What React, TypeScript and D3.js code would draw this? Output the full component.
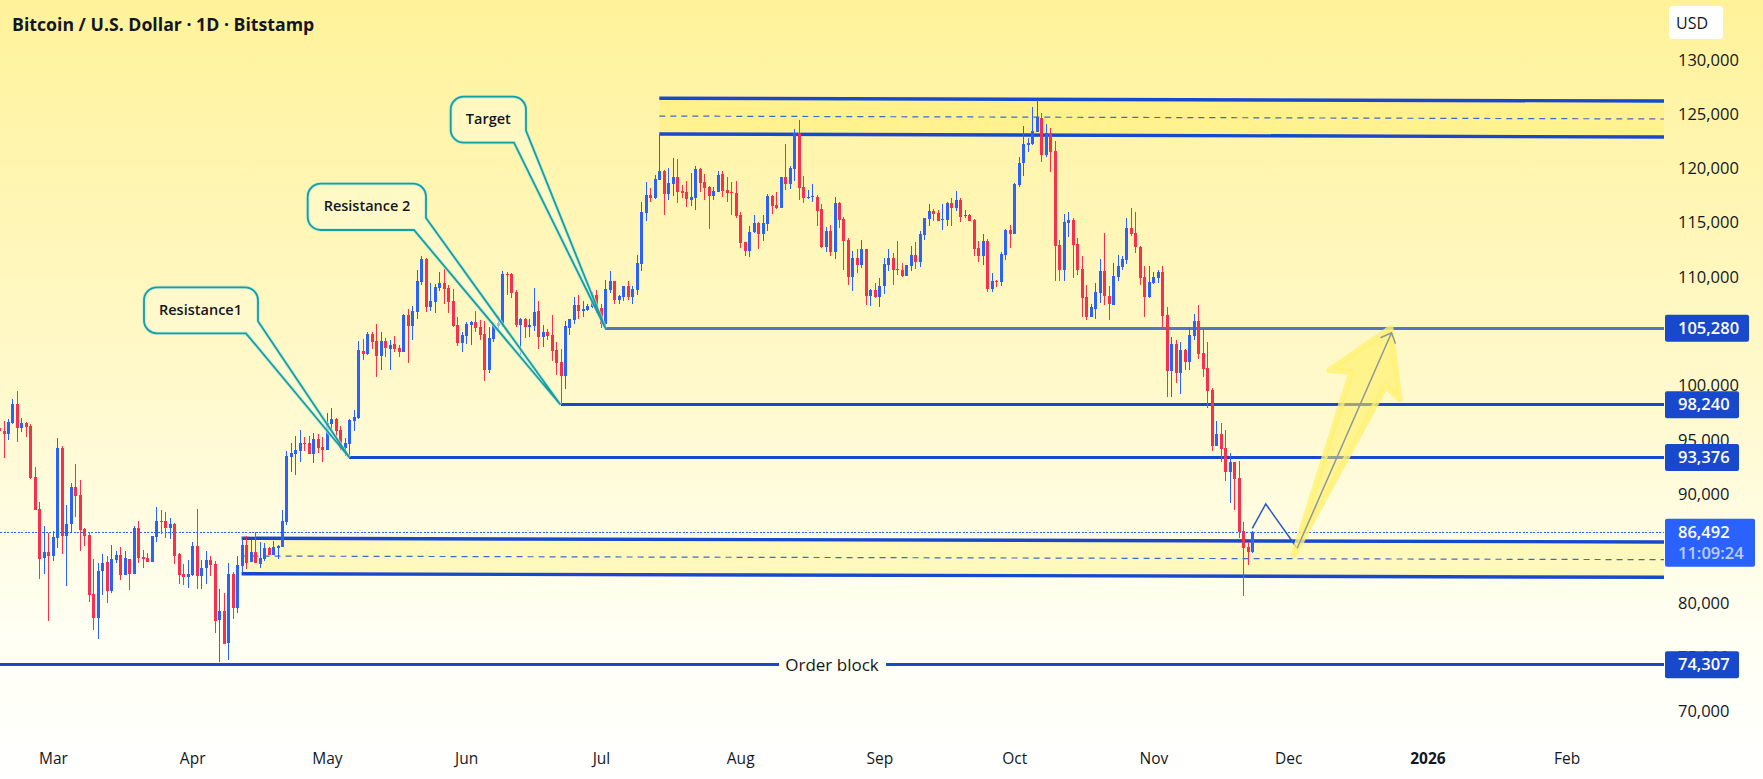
import { useEffect, useRef } from 'react';
import * as d3 from 'd3';

// daily candles, USD thousands, first bar is 17 Feb 2025
const opens = [
  96.06,95.82,95.54,96.52,98.3,96.09,96.55,96.25,91.58,88.63,
  84.12,84.67,84.31,85.96,94.25,86.18,87.25,90.66,89.92,86.79,
  86.24,80.81,78.6,82.92,83.75,81.08,83.94,84.4,82.56,84.03,
  82.65,86.88,84.21,84.12,83.75,86.06,87.53,87.53,86.88,87.25,
  84.49,82.65,82.37,82.56,85.23,82.46,83.2,83.94,83.57,78.41,
  79.24,76.29,82.65,79.52,83.38,85.32,83.75,84.67,83.57,84.03,
  85.04,84.4,85.04,85.13,87.44,93.42,93.7,93.98,94.71,94.71,
  93.7,95.08,94.34,94.07,96.46,96.92,95.91,94.26,94.62,96.74,
  97.02,103.18,102.9,104.75,104.11,102.72,104.11,103.37,103.83,103.46,
  103.09,106.5,105.49,106.78,109.54,111.66,107.24,107.7,108.99,109.45,
  108.99,107.79,105.58,103.92,104.57,105.58,105.85,105.39,104.75,101.43,
  104.29,105.49,105.58,110.28,110.28,108.62,105.58,106.13,105.39,105.49,
  106.87,104.47,104.93,104.66,103.28,102.17,100.89,105.3,106.04,107.42,
  106.87,106.96,107.24,108.34,107.1,105.7,108.8,109.63,107.9,108.15,
  109.17,108.15,108.8,111.19,115.89,117.55,117.27,118.93,119.76,117.64,
  118.56,119.2,117.92,117.82,117.09,117.27,119.94,118.75,118.29,117.46,
  117.82,119.48,118.01,117.82,117.73,115.7,113.22,112.39,114.14,114.97,
  113.96,114.88,117.46,116.63,116.35,119.2,118.56,119.94,123.26,118.29,
  117.27,117.36,117.36,116.26,112.76,114.23,112.3,116.81,115.34,113.41,
  109.98,111.75,111.1,112.57,108.25,108.8,108.15,109.17,111.1,111.75,
  110.73,110.64,110.09,111.01,112.02,111.38,113.87,115.34,116.08,115.89,
  115.25,115.25,116.81,116.35,117.09,115.61,115.7,115.25,112.67,111.93,
  113.31,108.89,109.63,109.54,112.02,114.32,113.96,118.47,120.5,122.15,
  122.25,123.35,124.64,121.23,123.26,121.6,112.94,110.64,114.97,115.25,
  113.04,110.73,108.15,106.31,107.05,108.52,110.55,108.25,107.42,109.99,
  110.92,111.56,114.51,114.05,112.76,110.0,108.15,109.44,109.9,110.46,
  106.5,101.34,103.82,101.15,103.27,102.17,104.56,105.94,102.99,101.61,
  99.59,94.43,95.54,94.25,92.04,92.96,91.48,86.6,85.13,84.67,
];
const highs = [
  96.52,96.74,96.92,98.77,99.5,97.01,96.62,96.46,92.5,89.28,
  87.07,86.39,86.61,95.17,94.41,89.0,91.03,92.78,91.3,86.88,
  86.52,84.03,83.66,84.49,84.3,85.32,84.77,85.13,84.77,84.03,
  87.07,87.53,84.86,84.58,86.15,88.82,88.54,88.36,87.8,87.35,
  84.58,83.57,83.94,85.59,88.63,83.94,84.77,84.3,83.84,81.27,
  80.9,83.66,82.83,84.3,86.06,86.15,85.78,86.52,85.59,85.5,
  85.13,85.69,85.32,88.54,93.98,94.71,95.36,95.91,95.27,95.36,
  95.63,95.54,95.27,97.48,97.94,97.0,96.28,95.18,96.93,97.76,
  104.1,104.26,104.93,104.93,105.67,104.93,104.38,104.2,104.56,103.74,
  106.59,107.05,107.33,110.64,111.93,111.75,109.45,109.36,110.46,110.74,
  109.26,108.9,106.32,104.93,105.85,105.95,106.87,106.04,105.95,105.39,
  105.85,106.41,110.55,110.46,110.37,108.8,106.22,106.22,106.13,108.99,
  107.79,105.58,105.21,106.5,104.01,103.37,105.95,106.13,108.16,108.34,
  107.79,107.51,108.62,108.8,107.5,109.72,110.55,109.63,108.34,109.17,
  109.63,109.17,112.02,116.9,118.75,118.19,119.39,123.17,119.85,120.04,
  120.96,120.86,118.47,118.84,119.57,120.22,120.04,119.48,118.38,118.29,
  119.76,119.76,119.2,118.75,118.84,115.98,113.22,114.69,115.7,115.06,
  115.7,117.64,117.55,117.82,119.2,122.25,120.22,123.63,124.46,119.3,
  118.01,118.56,117.55,116.72,114.6,114.78,117.36,116.9,115.52,113.59,
  112.39,112.57,113.4,112.57,108.89,109.44,109.9,111.75,112.57,112.21,
  113.31,111.29,111.1,112.85,113.22,114.23,115.43,116.72,116.26,116.17,
  116.72,116.9,117.27,117.92,117.27,116.17,115.8,115.34,113.31,113.96,
  113.5,110.36,109.72,112.3,114.42,114.79,118.65,121.05,123.9,122.8,
  125.65,126.27,125.1,124.09,123.72,122.52,113.4,115.8,115.98,115.43,
  113.59,111.93,109.26,107.51,109.44,111.65,114.05,109.17,111.29,112.02,
  111.93,115.43,116.35,115.98,112.85,111.0,111.0,110.46,110.64,111.0,
  107.23,104.47,104.19,104.0,103.36,105.39,106.59,107.4,105.3,104.0,
  99.77,96.73,96.55,95.9,93.78,92.96,93.05,87.43,85.59,86.6,
];
const lows = [
  95.6,93.36,94.99,96.43,94.8,95.73,95.3,91.4,88.54,82.19,
  82.65,78.35,83.88,85.04,84.49,81.54,86.52,87.9,84.77,85.23,
  80.07,77.49,76.66,80.71,79.98,80.9,83.66,82.09,82.56,81.17,
  82.65,83.66,83.2,83.75,83.75,85.59,86.33,85.96,85.87,83.57,
  81.73,81.63,81.36,82.46,81.27,81.27,81.73,82.46,77.21,74.54,
  76.2,74.73,78.5,79.06,82.74,83.11,83.75,83.66,83.2,83.84,
  84.4,84.4,84.03,85.13,87.16,92.0,91.77,92.96,93.98,93.7,
  92.87,93.79,92.96,94.07,95.91,94.99,94.07,93.52,93.52,95.82,
  96.93,102.35,102.82,103.37,100.79,101.43,102.63,101.43,103.09,102.63,
  103.09,102.08,104.2,106.13,109.26,106.78,106.87,106.68,108.7,107.5,
  106.68,105.39,103.64,103.09,103.83,103.74,104.93,104.2,100.43,101.16,
  104.0,105.12,105.39,108.34,108.07,105.4,102.82,104.38,104.47,105.03,
  103.37,103.55,104.2,102.26,100.97,98.37,99.69,104.66,105.7,106.13,
  106.32,106.87,107.14,106.68,105.3,105.5,108.52,107.5,107.5,107.8,
  107.88,107.5,108.34,110.55,115.15,116.9,117.18,118.93,115.7,117.1,
  117.46,116.81,117.27,116.44,116.54,116.17,117.82,117.09,114.42,117.09,
  117.82,117.36,116.9,115.7,115.43,112.67,111.93,111.84,114.05,112.57,
  113.31,114.23,115.8,116.26,116.35,118.01,118.1,118.84,117.09,116.81,
  117.18,116.9,114.69,112.67,112.3,111.93,111.65,114.51,110.64,109.26,
  108.71,110.36,110.82,107.42,107.33,108.06,107.23,108.43,110.55,109.26,
  110.18,110.0,110.09,110.55,110.73,110.92,113.4,114.69,115.15,115.15,
  114.33,114.69,114.69,116.07,115.06,115.43,115.15,111.93,111.38,111.1,
  108.61,108.61,109.08,109.17,111.56,112.67,113.96,118.29,119.3,121.51,
  122.15,123.35,120.59,121.05,119.67,109.63,109.63,109.63,113.68,109.9,
  110.18,106.31,106.04,106.31,106.13,107.6,107.42,106.04,107.42,109.63,
  110.64,111.19,113.77,112.21,109.26,106.31,108.1,109.35,109.44,105.3,
  98.94,98.94,100.23,99.22,101.43,101.43,104.19,102.44,100.79,97.93,
  93.97,94.43,92.96,91.2,89.18,88.54,85.96,80.62,83.47,84.6,
];
const closes = [
  95.82,95.54,96.62,98.3,96.13,96.52,96.19,91.49,88.57,84.06,
  84.67,84.31,86.06,94.25,86.18,87.25,90.66,89.83,86.7,86.18,
  80.71,78.6,82.92,83.66,81.08,84.03,84.4,82.56,84.12,82.65,
  86.88,84.12,84.03,83.75,86.15,87.53,87.44,86.88,87.25,84.31,
  82.56,82.37,82.65,85.23,82.46,83.2,83.94,83.48,78.32,79.24,
  76.2,82.65,79.52,83.48,85.32,83.66,84.67,83.66,84.12,85.04,
  84.4,85.13,85.23,87.53,93.52,93.79,94.07,94.71,94.62,93.7,
  95.08,94.25,94.07,96.55,96.92,95.82,94.26,94.72,96.83,97.11,
  103.28,102.9,104.75,104.01,102.72,104.11,103.46,103.74,103.37,103.09,
  106.5,105.49,106.87,109.63,111.66,107.24,107.79,109.08,109.45,108.9,
  107.7,105.49,103.92,104.66,105.67,105.85,105.3,104.66,101.43,104.38,
  105.58,105.76,110.28,110.18,108.53,105.58,106.13,105.39,105.58,106.78,
  104.47,104.93,104.57,103.18,102.08,100.89,105.49,106.13,107.42,106.87,
  107.05,107.33,108.34,107.05,105.7,108.89,109.63,107.88,108.25,109.17,
  108.15,108.89,111.29,115.98,117.55,117.27,119.02,119.76,117.64,118.65,
  119.2,117.82,117.73,117.18,117.36,119.94,118.65,118.19,117.46,117.92,
  119.39,117.92,117.73,117.73,115.61,113.13,112.39,114.14,114.97,113.96,
  114.97,117.46,116.54,116.35,119.2,118.56,120.04,123.26,118.19,117.27,
  117.36,117.46,116.07,112.76,114.23,112.3,116.81,115.25,113.31,109.98,
  111.75,111.1,112.57,108.25,108.8,108.15,109.17,111.19,111.75,110.64,
  110.64,110.09,111.1,112.02,111.38,113.96,115.43,116.08,115.8,115.15,
  115.34,116.81,116.35,117.09,115.52,115.7,115.15,112.57,111.93,113.31,
  108.89,109.63,109.54,112.11,114.32,113.96,118.56,120.5,122.25,122.34,
  123.44,124.73,121.23,123.26,121.51,112.85,110.64,115.06,115.25,112.94,
  110.64,108.06,106.31,107.23,108.62,110.55,108.25,107.51,110.09,111.01,
  111.65,114.51,113.96,112.76,109.9,108.15,109.53,110.0,110.46,106.4,
  101.34,103.82,101.15,103.27,102.17,104.65,105.94,102.9,101.52,99.5,
  94.43,95.54,94.15,92.04,92.96,91.39,86.51,85.04,84.67,86.49,
];

const firstDay = new Date(Date.UTC(2025, 1, 17));
const priceTicks = [70, 75, 80, 85, 90, 95, 100, 105, 110, 115, 120, 125, 130];
const timeTicks = [
  [2025, 2], [2025, 3], [2025, 4], [2025, 5], [2025, 6], [2025, 7],
  [2025, 8], [2025, 9], [2025, 10], [2025, 11], [2026, 0], [2026, 1],
].map(([y, m]) => new Date(Date.UTC(y, m, 1)));

// horizontal levels: price, first day (null = from the left edge)
const levelPrices = [105.28, 98.24, 93.376, 74.307];
const levelStarts = [
  new Date(Date.UTC(2025, 6, 2)),
  new Date(Date.UTC(2025, 5, 22)),
  new Date(Date.UTC(2025, 4, 6)),
  null,
];
const lastPrice = 86.492;
const countdown = '11:09:24';

// zones, [left price, right price] for each edge
const upperZoneStart = new Date(Date.UTC(2025, 6, 14));
const upperZoneTop = [126.46, 126.2];
const upperZoneMid = [124.82, 124.55];
const upperZoneBottom = [123.17, 122.89];
const lowerZoneStart = new Date(Date.UTC(2025, 3, 12));
const lowerZoneTop = [85.94, 85.6];
const lowerZoneMid = [84.31, 83.97];
const lowerZoneBottom = [82.68, 82.35];

// projected move after the last bar
const zigzagDays = [
  new Date(Date.UTC(2025, 10, 23)),
  new Date(Date.UTC(2025, 10, 26)),
  new Date(Date.UTC(2025, 11, 3)),
];
const zigzagPrices = [86.86, 89.1, 85.02];
const targetDay = new Date(Date.UTC(2025, 11, 24));
const targetPrice = 104.87;

const callouts = ['Resistance1', 'Resistance 2', 'Target'];

const WIDTH = 1763;
const HEIGHT = 779;
const PLOT_RIGHT = 1664;
const LINE_BLUE = '#1848cc';
const UP = '#2962ff';
const DOWN = '#f7304d';
const TEXT = '#131722';
const FONT = '"Open Sans", sans-serif';

const money = (v: number) => d3.format(',')(Math.round(v * 1000));

export default function App() {
  const svgRef = useRef<SVGSVGElement>(null);

  useEffect(() => {
    if (!svgRef.current) return;
    const svg = d3.select(svgRef.current);
    svg.selectAll('*').remove();

    const x = d3.scaleUtc()
      .domain([new Date(Date.UTC(2025, 1, 18)), new Date(Date.UTC(2026, 1, 1))])
      .range([3.5, 1566.7]);
    const y = d3.scaleLinear().domain([70, 130]).range([711.4, 59.8]);

    const dates = opens.map((_, i) => d3.utcDay.offset(firstDay, i));

    // Background
    const gradient = svg.append('defs')
      .append('linearGradient')
      .attr('id', 'bg')
      .attr('gradientTransform', 'rotate(90)');
    gradient.append('stop').attr('offset', '0%').attr('stop-color', '#fff29a');
    gradient.append('stop').attr('offset', '50%').attr('stop-color', '#fff9cc');
    gradient.append('stop').attr('offset', '80%').attr('stop-color', '#fffff2');
    gradient.append('stop').attr('offset', '100%').attr('stop-color', '#ffffff');
    svg.append('rect').attr('width', WIDTH).attr('height', HEIGHT).attr('fill', 'url(#bg)');

    // Zones
    const drawZone = (start: Date, top: number[], mid: number[], bottom: number[]) => {
      const x0 = x(start);
      const g = svg.append('g');
      g.append('path')
        .attr('d', `M${x0},${y(top[0])}L${PLOT_RIGHT},${y(top[1])}L${PLOT_RIGHT},${y(bottom[1])}L${x0},${y(bottom[0])}Z`)
        .attr('fill', '#ffeb3b')
        .attr('fill-opacity', 0.25);
      [top, bottom].forEach(edge => {
        g.append('line')
          .attr('x1', x0).attr('x2', PLOT_RIGHT)
          .attr('y1', y(edge[0])).attr('y2', y(edge[1]))
          .attr('stroke', LINE_BLUE).attr('stroke-width', 3.4);
      });
      g.append('line')
        .attr('x1', x0).attr('x2', PLOT_RIGHT)
        .attr('y1', y(mid[0])).attr('y2', y(mid[1]))
        .attr('stroke', '#3f68cc').attr('stroke-width', 1.2)
        .attr('stroke-dasharray', '6 5');
    };
    drawZone(upperZoneStart, upperZoneTop, upperZoneMid, upperZoneBottom);
    drawZone(lowerZoneStart, lowerZoneTop, lowerZoneMid, lowerZoneBottom);

    // Last price line
    const lastY = Math.round(y(lastPrice)) + 0.5;
    svg.append('line')
      .attr('x1', 0).attr('x2', PLOT_RIGHT)
      .attr('y1', lastY).attr('y2', lastY)
      .attr('stroke', UP).attr('stroke-width', 1)
      .attr('stroke-dasharray', '2 1.5')
      .attr('shape-rendering', 'crispEdges');

    // Levels
    levelPrices.forEach((p, i) => {
      const start = levelStarts[i];
      const x0 = start ? x(start) : 0;
      const color = i === 0 ? '#5176c9' : LINE_BLUE;
      svg.append('line')
        .attr('x1', x0).attr('x2', PLOT_RIGHT)
        .attr('y1', y(p)).attr('y2', y(p))
        .attr('stroke', color).attr('stroke-width', 3)
        .attr('shape-rendering', 'crispEdges');
    });

    // Order block caption sits in a gap of the 74,307 line
    svg.append('rect')
      .attr('x', 779).attr('y', y(74.307) - 3)
      .attr('width', 107).attr('height', 6)
      .attr('fill', '#fffff4');
    svg.append('text')
      .attr('x', 832).attr('y', y(74.307))
      .attr('dy', '.35em').attr('text-anchor', 'middle')
      .attr('font-family', FONT).attr('font-size', 17)
      .attr('fill', TEXT)
      .text('Order block');

    // Candles
    const bars = svg.append('g')
      .attr('shape-rendering', 'crispEdges')
      .selectAll('g')
      .data(dates)
      .enter().append('g')
      .attr('fill', (_, i) => (closes[i] >= opens[i] ? UP : DOWN));
    bars.append('rect')
      .attr('x', d => Math.round(x(d)))
      .attr('width', 1)
      .attr('y', (_, i) => y(highs[i]))
      .attr('height', (_, i) => y(lows[i]) - y(highs[i]));
    bars.append('rect')
      .attr('x', d => Math.round(x(d)) - 1)
      .attr('width', 3)
      .attr('y', (_, i) => y(Math.max(opens[i], closes[i])))
      .attr('height', (_, i) => Math.max(1, Math.abs(y(opens[i]) - y(closes[i]))));

    // Callouts, box in pixels, tip on the level it points at
    const boxes = [
      { l: 144, t: 287.3, r: 258, b: 333.3, cx: 200.5, cy: 310, tip: [x(levelStarts[2]!), y(levelPrices[2])] },
      { l: 307.7, t: 183.7, r: 426, b: 230, cx: 367, cy: 206, tip: [x(levelStarts[1]!), y(levelPrices[1])] },
      { l: 450.7, t: 96.7, r: 526, b: 142.7, cx: 488.3, cy: 119, tip: [x(levelStarts[0]!), y(levelPrices[0])] },
    ];
    boxes.forEach((c, i) => {
      const rad = 13;
      const p = d3.path();
      p.moveTo(c.l + rad, c.t);
      p.arcTo(c.r, c.t, c.r, c.t + rad, rad);
      p.lineTo(c.r, c.b - 12);
      p.lineTo(c.tip[0], c.tip[1]);
      p.lineTo(c.r - 12, c.b);
      p.arcTo(c.l, c.b, c.l, c.b - rad, rad);
      p.arcTo(c.l, c.t, c.l + rad, c.t, rad);
      p.closePath();
      svg.append('path')
        .attr('d', p.toString())
        .attr('fill', '#fffbd6').attr('fill-opacity', 0.55)
        .attr('stroke', '#bfe5d8').attr('stroke-opacity', 0.7).attr('stroke-width', 3.6);
      svg.append('path')
        .attr('d', p.toString())
        .attr('fill', 'none')
        .attr('stroke', '#12a0a3').attr('stroke-width', 1.8);
      svg.append('text')
        .attr('x', c.cx).attr('y', c.cy)
        .attr('dy', '.35em').attr('text-anchor', 'middle')
        .attr('font-family', FONT).attr('font-size', 14.5).attr('font-weight', 600)
        .attr('fill', TEXT)
        .text(callouts[i]);
    });

    // Zigzag
    const zigzag = d3.line<Date>()
      .x(d => x(d))
      .y((_, i) => y(zigzagPrices[i]));
    svg.append('path')
      .attr('d', zigzag(zigzagDays))
      .attr('fill', 'none').attr('stroke', '#2a57c8').attr('stroke-width', 1.5);

    // Big yellow arrow, built around the line from the zigzag end to the target
    const ax = x(zigzagDays[2]);
    const ay = y(zigzagPrices[2]);
    const tx = x(targetDay);
    const ty = y(targetPrice);
    const arrow = [
      [ax - 3.5, ay + 7], [tx - 40, ty + 39], [tx - 62, ty + 37.5], [tx - 1, ty - 4.5],
      [tx + 8, ty + 66.5], [tx - 6, ty + 53],
    ];
    svg.append('path')
      .attr('d', d3.line()(arrow as [number, number][]) + 'Z')
      .attr('fill', '#ffee58').attr('fill-opacity', 0.55)
      .attr('stroke', '#fff176').attr('stroke-opacity', 0.8)
      .attr('stroke-width', 6).attr('stroke-linejoin', 'round');
    svg.append('path')
      .attr('d', `M${ax},${ay}L${tx},${ty}M${tx - 11},${ty + 5}L${tx},${ty}L${tx + 4},${ty + 11}`)
      .attr('fill', 'none').attr('stroke', '#8e989c').attr('stroke-width', 1.5);

    // Axes
    const yAxis = svg.append('g')
      .attr('transform', `translate(${PLOT_RIGHT},0)`)
      .call(d3.axisRight(y).tickValues(priceTicks).tickSize(0).tickPadding(14).tickFormat(d => money(+d)));
    yAxis.select('.domain').remove();
    yAxis.selectAll('text')
      .attr('font-family', FONT).attr('font-size', 16.5).attr('fill', TEXT);

    const xAxis = svg.append('g')
      .attr('transform', 'translate(0,750)')
      .call(d3.axisBottom(x).tickValues(timeTicks).tickSize(0).tickPadding(3)
        .tickFormat(d => (((d as Date).getUTCMonth() === 0) ? d3.utcFormat('%Y')(d as Date) : d3.utcFormat('%b')(d as Date))));
    xAxis.select('.domain').remove();
    xAxis.selectAll('text')
      .attr('font-family', FONT).attr('font-size', 15.5).attr('fill', TEXT)
      .attr('font-weight', (d: any) => ((d as Date).getUTCMonth() === 0 ? 700 : 400));

    // Price tags on the axis
    levelPrices.forEach(p => {
      const w = p >= 100 ? 84 : 74;
      svg.append('rect')
        .attr('x', PLOT_RIGHT + 1).attr('y', y(p) - 13.5)
        .attr('width', w).attr('height', 27).attr('rx', 2)
        .attr('fill', LINE_BLUE);
      svg.append('text')
        .attr('x', PLOT_RIGHT + 14).attr('y', y(p))
        .attr('dy', '.35em')
        .attr('font-family', FONT).attr('font-size', 16.5).attr('font-weight', 600)
        .attr('fill', '#ffffff')
        .text(money(p));
    });
    svg.append('rect')
      .attr('x', PLOT_RIGHT + 1).attr('y', y(lastPrice) - 13.5)
      .attr('width', 90).attr('height', 48).attr('rx', 2)
      .attr('fill', UP);
    svg.append('text')
      .attr('x', PLOT_RIGHT + 14).attr('y', y(lastPrice))
      .attr('dy', '.35em')
      .attr('font-family', FONT).attr('font-size', 16.5).attr('font-weight', 600)
      .attr('fill', '#ffffff')
      .text(money(lastPrice));
    svg.append('text')
      .attr('x', PLOT_RIGHT + 14).attr('y', y(lastPrice) + 20.5)
      .attr('dy', '.35em')
      .attr('font-family', FONT).attr('font-size', 16.5).attr('font-weight', 600)
      .attr('fill', '#ffffff').attr('fill-opacity', 0.7)
      .text(countdown);

    // Currency button
    svg.append('rect')
      .attr('x', 1669).attr('y', 6)
      .attr('width', 54).attr('height', 33).attr('rx', 4)
      .attr('fill', '#ffffff');
    svg.append('text')
      .attr('x', 1692).attr('y', 23).attr('dy', '.35em')
      .attr('text-anchor', 'middle')
      .attr('font-family', FONT).attr('font-size', 16).attr('fill', TEXT)
      .text('USD');

    // Title
    svg.append('text')
      .attr('x', 12).attr('y', 25).attr('dy', '.35em')
      .attr('font-family', FONT).attr('font-size', 17.7).attr('font-weight', 700)
      .attr('fill', TEXT)
      .text('Bitcoin / U.S. Dollar · 1D · Bitstamp');
  }, []);

  return <svg ref={svgRef} width={WIDTH} height={HEIGHT} style={{ position: 'fixed', left: 0, top: 0 }} />;
}
